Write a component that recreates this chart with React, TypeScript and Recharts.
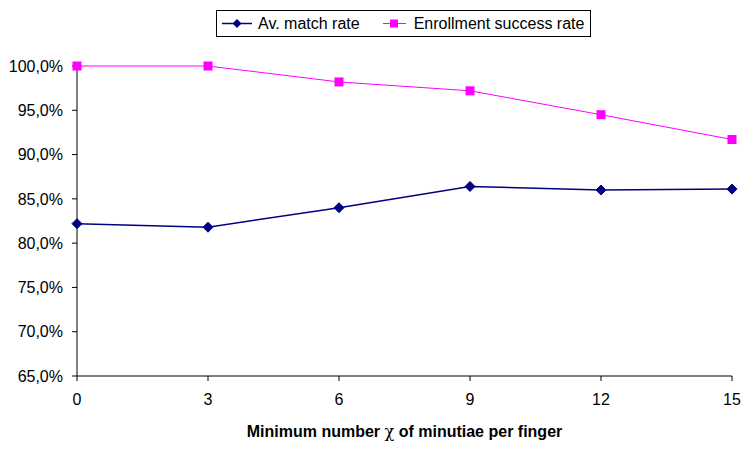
import React from 'react';
import { LineChart, Line, XAxis, YAxis, Legend } from 'recharts';

// valores
const minutiae = [0, 3, 6, 9, 12, 15];
const matchRate = [0.822, 0.818, 0.840, 0.864, 0.860, 0.861];
const enrollRate = [1.0, 1.0, 0.982, 0.972, 0.945, 0.917];
const yTicks = [0.65, 0.7, 0.75, 0.8, 0.85, 0.9, 0.95, 1.0];

const data = minutiae.map((m, i) => ({
  m,
  match: matchRate[i],
  enroll: enrollRate[i],
}));

const NAVY = '#000080';
const PINK = '#FF00FF';
const FONT = '"Liberation Sans", Arial, sans-serif';

const Diamond = (props: any) => {
  const { cx, cy } = props;
  if (cx == null || cy == null) return null;
  return <polygon points={`${cx},${cy - 5} ${cx + 5},${cy} ${cx},${cy + 5} ${cx - 5},${cy}`} fill={NAVY} stroke={NAVY} />;
};

const Square = (props: any) => {
  const { cx, cy } = props;
  if (cx == null || cy == null) return null;
  return <rect x={cx - 4.5} y={cy - 4.5} width={9} height={9} fill={PINK} />;
};

const CustomLegend = () => (
  <div style={{
    border: '1px solid #000', width: 373, height: 25, boxSizing: 'content-box',
    fontFamily: FONT, fontSize: 16, display: 'flex', alignItems: 'center', background: '#fff',
  }}>
    <svg width={36} height={25} style={{ flex: 'none' }}>
      <line x1={5} y1={12.5} x2={35} y2={12.5} stroke={NAVY} strokeWidth={1.5} />
      <polygon points="20,8 24.5,12.5 20,17 15.5,12.5" fill={NAVY} />
    </svg>
    <span style={{ marginLeft: 5 }}>Av. match rate</span>
    <svg width={30} height={25} style={{ flex: 'none', marginLeft: 20 }}>
      <line x1={3} y1={12.5} x2={26} y2={12.5} stroke={PINK} strokeWidth={1} />
      <rect x={10} y={8.5} width={8} height={8} fill={PINK} />
    </svg>
    <span style={{ marginLeft: 4 }}>Enrollment success rate</span>
  </div>
);

const AxisTitle = (props: any) => {
  const vb = props.viewBox || {};
  const cx = vb.x + vb.width / 2;
  return (
    <text x={cx} y={437} textAnchor="middle" fontFamily={FONT} fontSize={16} fontWeight="bold" fill="#000">
      Minimum number <tspan fontWeight="normal" fontFamily="'DejaVu Serif', serif">χ</tspan> of minutiae per finger
    </text>
  );
};

const fmtPct = (v: number) => (v * 100).toFixed(1).replace('.', ',') + '%';

export default function App() {
  return (
    <div style={{ position: 'absolute', left: 0, top: 0, width: 753, height: 450, background: '#fff' }}>
      <LineChart width={753} height={450} data={data} margin={{ top: 39, right: 21, left: 0, bottom: 0 }}>
        <XAxis
          dataKey="m" type="number" domain={[0, 15]} ticks={minutiae}
          height={74} stroke="#000" tickSize={5} tickMargin={13}
          tick={{ fill: '#000', fontSize: 16, fontFamily: FONT }}
          label={<AxisTitle />}
        />
        <YAxis
          domain={[0.65, 1.0]} ticks={yTicks} width={77} stroke="#000"
          tickSize={5} tickMargin={9} tickFormatter={fmtPct}
          tick={{ fill: '#000', fontSize: 16, fontFamily: FONT }}
        />
        <Legend
          verticalAlign="top" align="left" content={<CustomLegend />}
          wrapperStyle={{ position: 'absolute', left: 216, top: 10, width: 375, height: 27 }}
        />
        <Line dataKey="match" stroke={NAVY} strokeWidth={1.5} dot={<Diamond />} isAnimationActive={false} />
        <Line dataKey="enroll" stroke={PINK} strokeWidth={1} dot={<Square />} isAnimationActive={false} />
      </LineChart>
    </div>
  );
}
